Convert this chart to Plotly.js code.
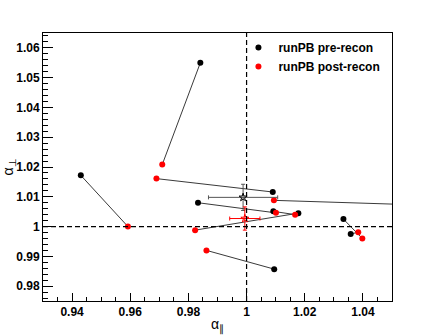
<!DOCTYPE html>
<html>
<head>
<meta charset="utf-8">
<script src="https://cdn.plot.ly/plotly-3.0.1.min.js"></script>
<style>
  body { margin: 0; background: #fff; }
  #chart { width: 436px; height: 335px; }
</style>
</head>
<body>
<div id="chart"></div>
<script>
// pre-recon and post-recon fits for each realization (same index = same mock)
const preAlphaPar   = [0.9841, 0.9430, 1.0090, 0.9833, 1.0092, 1.0178, 1.1000, 1.0095, 1.0333, 1.0358];
const preAlphaPerp  = [1.0550, 1.0172, 1.0116, 1.0080, 1.0051, 1.0045, 1.0060, 0.9857, 1.0025, 0.9975];
const postAlphaPar  = [0.9710, 0.9592, 0.9690, 1.0101, 1.0167, 0.9823, 1.0094, 0.9862, 1.0398, 1.0384];
const postAlphaPerp = [1.0208, 1.0000, 1.0161, 1.0046, 1.0040, 0.9988, 1.0088, 0.9920, 0.9960, 0.9981];

// mean values with scatter: [pre, post]
const meanPar  = [0.9988, 0.9994];
const meanPerp = [1.0098, 1.0027];
const errPar   = [0.0119, 0.0052];
const errPerp  = [0.0044, 0.0039];

const seriesNames = ['runPB pre-recon', 'runPB post-recon'];
const xTickVals = [0.94, 0.96, 0.98, 1, 1.02, 1.04];
const yTickVals = [0.98, 0.99, 1, 1.01, 1.02, 1.03, 1.04, 1.05, 1.06];
const refValue = 1;

const traces = [];

// connecting lines pre -> post
for (let i = 0; i < preAlphaPar.length; i++) {
    traces.push({
        x: [preAlphaPar[i], postAlphaPar[i]],
        y: [preAlphaPerp[i], postAlphaPerp[i]],
        mode: 'lines',
        type: 'scatter',
        line: { color: '#3a3a3a', width: 1 },
        showlegend: false,
        hoverinfo: 'skip'
    });
}

traces.push({
    x: preAlphaPar,
    y: preAlphaPerp,
    mode: 'markers',
    type: 'scatter',
    name: seriesNames[0],
    marker: { color: '#000000', size: 6 }
});

traces.push({
    x: postAlphaPar,
    y: postAlphaPerp,
    mode: 'markers',
    type: 'scatter',
    name: seriesNames[1],
    marker: { color: '#ff0000', size: 6 }
});

// mean markers with error bars
const meanColors = ['#555555', '#ff0000'];
const starColors = ['#000000', '#ff0000'];
for (let k = 0; k < 2; k++) {
    traces.push({
        x: [meanPar[k]],
        y: [meanPerp[k]],
        mode: 'markers',
        type: 'scatter',
        showlegend: false,
        marker: { symbol: 'star-open', size: 6, color: starColors[k], line: { width: 1, color: starColors[k] } },
        error_x: { type: 'data', array: [errPar[k]], color: meanColors[k], thickness: 1, width: 2 },
        error_y: { type: 'data', array: [errPerp[k]], color: meanColors[k], thickness: 1, width: 2 }
    });
}

const axisFont = { family: 'Liberation Sans, Arial, sans-serif', size: 12, color: '#000', weight: 'bold' };

const layout = {
    width: 436,
    height: 335,
    margin: { l: 43, r: 44, t: 33, b: 34 },
    paper_bgcolor: '#ffffff',
    plot_bgcolor: '#ffffff',
    showlegend: true,
    legend: {
        x: 0.56, y: 1.0, xanchor: 'left', yanchor: 'top',
        bgcolor: 'rgba(0,0,0,0)',
        font: { family: 'Liberation Sans, Arial, sans-serif', size: 12, color: '#000', weight: 'bold' }
    },
    xaxis: {
        range: [0.93, 1.05],
        tickvals: xTickVals,
        ticktext: xTickVals.map(v => String(v)),
        ticks: 'inside', ticklen: 8, tickcolor: '#000', tickwidth: 1,
        minor: { dtick: 0.005, ticks: 'inside', ticklen: 4, tickcolor: '#000', showgrid: false },
        showgrid: false, zeroline: false,
        showline: true, linecolor: '#000', linewidth: 1, mirror: true,
        tickfont: axisFont,
        title: { text: 'α<sub>∥</sub>', font: { family: 'Liberation Sans, Arial, sans-serif', size: 14, color: '#000' }, standoff: 6 }
    },
    yaxis: {
        range: [0.975, 1.065],
        tickvals: yTickVals,
        ticktext: yTickVals.map(v => String(v)),
        ticks: 'inside', ticklen: 10, tickcolor: '#000', tickwidth: 1,
        minor: { dtick: 0.002, ticks: 'inside', ticklen: 5, tickcolor: '#000', showgrid: false },
        showgrid: false, zeroline: false,
        showline: true, linecolor: '#000', linewidth: 1, mirror: true,
        tickfont: axisFont,
        title: { text: 'α<sub>⊥</sub>', font: { family: 'Liberation Sans, Arial, sans-serif', size: 14, color: '#000' }, standoff: 4 }
    },
    shapes: [
        { type: 'line', xref: 'x', yref: 'paper', x0: refValue, x1: refValue, y0: 0, y1: 1,
          line: { color: '#000', width: 1.2, dash: '5px,3px' } },
        { type: 'line', xref: 'paper', yref: 'y', x0: 0, x1: 1, y0: refValue, y1: refValue,
          line: { color: '#000', width: 1.2, dash: '5px,3px' } }
    ]
};

Plotly.newPlot('chart', traces, layout, { displayModeBar: false, staticPlot: true });
</script>
</body>
</html>
